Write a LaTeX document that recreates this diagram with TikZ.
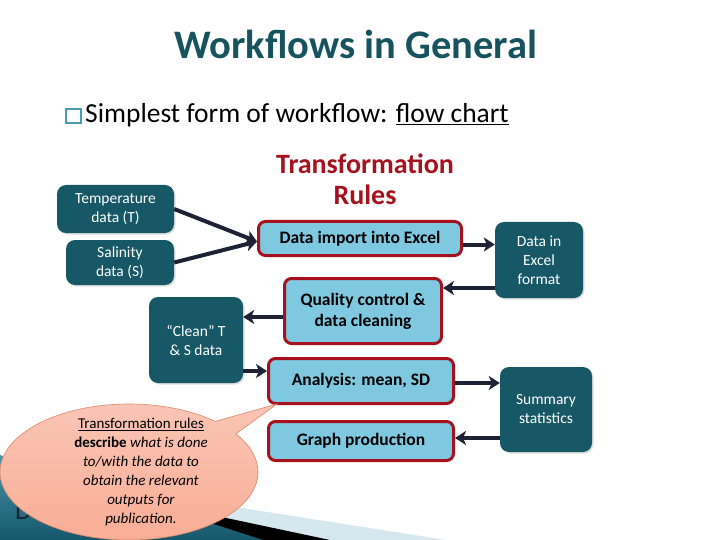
\documentclass[tikz,border=0pt]{standalone}
\usepackage{fontspec}
\setmainfont{Carlito}
\usetikzlibrary{arrows.meta,shapes.callouts,shadows}

\definecolor{slideteal}{HTML}{17535F}
\definecolor{boxteal}{HTML}{175866}
\definecolor{ruleblue}{HTML}{7EC8E0}
\definecolor{rulered}{HTML}{A5121E}
\definecolor{arrowink}{HTML}{1E2235}
\definecolor{bulletblue}{HTML}{4A9DB0}
\definecolor{noteline}{HTML}{D98868}
\definecolor{notetop}{HTML}{FAC6B6}
\definecolor{notebottom}{HTML}{F8AC94}
\definecolor{bandteal}{HTML}{1F7D98}
\definecolor{bandblue}{HTML}{D6E8EF}

\tikzset{
  databox/.style={rectangle, rounded corners=9pt, fill=boxteal, text=white,
    align=center, font=\fontsize{15.5}{19}\selectfont,
    drop shadow={opacity=0.25, shadow xshift=1.5pt, shadow yshift=-1.5pt}},
  rulebox/.style={rectangle, rounded corners=7pt, fill=ruleblue, draw=rulered,
    line width=3pt, align=center, font=\fontsize{17.5}{21}\selectfont\bfseries},
  flow/.style={draw=arrowink, line width=4pt,
    -{Stealth[length=11pt, width=14pt, inset=3pt]}},
}

\begin{document}
\begin{tikzpicture}[x=1pt, y=-1pt]
    \useasboundingbox (0,0) rectangle (720,540);

    % Slide decoration
    \fill[bandblue] (0,470) -- (446,540) -- (0,540) -- cycle;
    \fill[black] (0,470) -- (330,540) -- (0,540) -- cycle;
    \shade[top color=bandteal!80!white, bottom color=bandteal!70!black]
        (0,455) -- (263,540) -- (0,540) -- cycle;
    \node[anchor=base west, inner sep=0pt, font=\fontsize{27}{27}\selectfont,
        text=arrowink] (hidden) at (15,519) {D};

    % Title and bullet
    \node[anchor=base, inner sep=0pt, text=slideteal,
        font=\fontsize{40.5}{40}\selectfont\bfseries] (title) at (356,59) {Workflows in General};
    \draw[bulletblue, line width=1.5pt] (66,109) rectangle (81,123);
    \node[anchor=base west, inner sep=0pt, font=\fontsize{27.5}{28}\selectfont]
        (bullet) at (85,123) {Simplest form of workflow: \underline{flow chart}};
    \node[anchor=base, inner sep=0pt, text=rulered, align=center,
        font=\fontsize{28}{32}\selectfont\bfseries] (rules) at (365,205)
        {Transformation\\Rules};

    % Inputs and outputs
    \node[databox, minimum width=117pt, minimum height=48pt] (temp) at (115.5,209) {Temperature\\data (T)};
    \node[databox, minimum width=108pt, minimum height=45pt] (sal) at (120,262.5) {Salinity\\data (S)};
    \node[databox, minimum width=88pt, minimum height=76pt] (excel) at (539,260) {Data in\\Excel\\format};
    \node[databox, minimum width=94pt, minimum height=86pt] (clean) at (196,340) {``Clean'' T\\\& S data};
    \node[databox, minimum width=92pt, minimum height=85pt] (summary) at (546,409.5) {Summary\\statistics};

    % Transformation steps
    \node[rulebox, minimum width=203pt, minimum height=34pt] (import) at (360,238.5) {Data import into Excel};
    \node[rulebox, minimum width=157pt, minimum height=65pt] (qc) at (363,311) {Quality control \&\\data cleaning};
    \node[rulebox, minimum width=185pt, minimum height=45pt] (analysis) at (361,381) {Analysis: mean, SD};
    \node[rulebox, minimum width=185pt, minimum height=39pt] (graph) at (361,441) {Graph production};

    % Connectors
    \draw[flow] (temp.east) -- ([yshift=-3pt]import.west);
    \draw[flow] (sal.east) -- ([yshift=-3pt]import.west);
    \draw[flow] ([yshift=-6pt]import.east) -- ([yshift=-6pt]import.east -| excel.west);
    \draw[flow] ([yshift=-28pt]excel.west) -- ([yshift=-28pt]excel.west -| qc.east);
    \draw[flow] ([yshift=-6pt]qc.west) -- ([yshift=-6pt]qc.west -| clean.east);
    \draw[flow] ([yshift=10pt]analysis.west -| clean.east) -- ([yshift=10pt]analysis.west);
    \draw[flow] ([yshift=-2pt]analysis.east) -- ([yshift=-2pt]analysis.east -| summary.west);
    \draw[flow] ([yshift=3pt]graph.east -| summary.west) -- ([yshift=3pt]graph.east);

    % Note on the rules
    \node[ellipse callout, draw=noteline, line width=0.6pt,
        top color=notetop, bottom color=notebottom,
        minimum width=258pt, minimum height=136pt, callout pointer arc=14,
        callout absolute pointer={([shift={(10pt,1pt)}]analysis.south west)}]
        (bubble) at (129,472) {};
    \node[align=center, inner sep=0pt, font=\fontsize{15}{19}\selectfont] (note) at (141,472)
        {\underline{Transformation rules}\\
         \textbf{describe} \textit{what is done}\\
         \textit{to/with the data to}\\
         \textit{obtain the relevant}\\
         \textit{outputs for}\\
         \textit{publication.}};
\end{tikzpicture}
\end{document}
